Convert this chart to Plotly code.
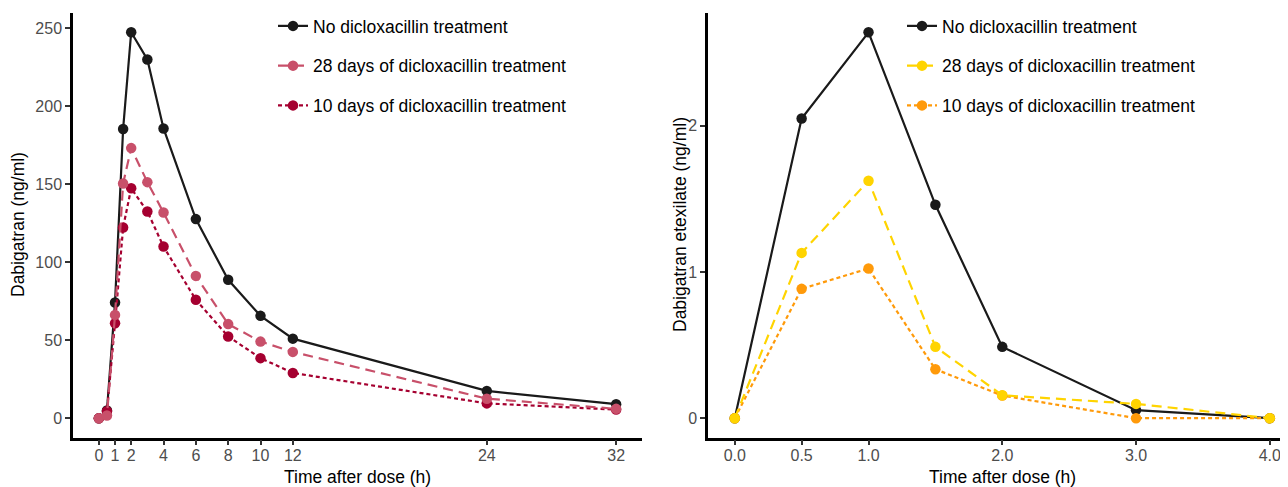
import plotly.graph_objects as go

# ---- Data: Dabigatran (left panel) ----
time_dab = [0, 0.5, 1, 1.5, 2, 3, 4, 6, 8, 10, 12, 24, 32]
dab_none = [0, 4.9, 74.1, 185.3, 247.4, 229.9, 185.7, 127.6, 88.7, 65.6, 51.0, 17.5, 9.0]
dab_28d = [0, 1.7, 66.2, 150.4, 173.1, 151.3, 131.8, 91.2, 60.3, 49.1, 42.5, 12.5, 6.0]
dab_10d = [0, 4.5, 60.9, 122.2, 147.4, 132.5, 110.0, 75.9, 52.4, 38.5, 29.0, 9.5, 5.5]
x_ticks_dab = [0, 1, 2, 4, 6, 8, 10, 12, 24, 32]
y_ticks_dab = [0, 50, 100, 150, 200, 250]

# ---- Data: Dabigatran etexilate (right panel) ----
time_dabe = [0, 0.5, 1.0, 1.5, 2.0, 3.0, 4.0]
dabe_none = [0, 2.05, 2.64, 1.46, 0.488, 0.055, 0]
dabe_28d = [0, 1.131, 1.624, 0.488, 0.157, 0.098, 0]
dabe_10d = [0, 0.885, 1.024, 0.335, 0.155, 0, 0]
x_ticks_dabe = [0, 0.5, 1.0, 2.0, 3.0, 4.0]
x_ticktext_dabe = ["0.0", "0.5", "1.0", "2.0", "3.0", "4.0"]
y_ticks_dabe = [0, 1, 2]

labels = ["No dicloxacillin treatment",
          "28 days of dicloxacillin treatment",
          "10 days of dicloxacillin treatment"]
x_title = "Time after dose (h)"
y_title_left = "Dabigatran (ng/ml)"
y_title_right = "Dabigatran etexilate (ng/ml)"

FONT = "Liberation Sans, Arial, Helvetica, sans-serif"
OFF = 8  # page body margin
W, H = 1288 - OFF, 487 - OFF

fig = go.Figure()

def add(x, y, name, color, dash, xa, ya, leg, rank, group):
    fig.add_trace(go.Scatter(
        x=x, y=y, name=name, mode="lines+markers",
        line=dict(color=color, width=2.2, dash=dash),
        marker=dict(color=color, size=10.5),
        xaxis=xa, yaxis=ya, legend=leg, legendrank=rank, legendgroup=group,
    ))

# left panel (draw order: black, 10d, 28d)
add(time_dab, dab_none, labels[0], "#1a1a1a", "solid", "x", "y", "legend", 1, "a1")
add(time_dab, dab_10d, labels[2], "#a50030", "4px,3px", "x", "y", "legend", 3, "a3")
add(time_dab, dab_28d, labels[1], "#c8506a", "10px,6px", "x", "y", "legend", 2, "a2")
# right panel
add(time_dabe, dabe_none, labels[0], "#1a1a1a", "solid", "x2", "y2", "legend2", 1, "b1")
add(time_dabe, dabe_10d, labels[2], "#ff9a0a", "4px,3px", "x2", "y2", "legend2", 3, "b3")
add(time_dabe, dabe_28d, labels[1], "#ffd400", "10px,6px", "x2", "y2", "legend2", 2, "b2")

def px_x(p):  # p: pixel in reference screenshot
    return (p - OFF) / W

def px_y(p):
    return 1 - (p - OFF) / H

axis_common = dict(
    showline=True, linecolor="black", linewidth=2.5, mirror=False,
    ticks="outside", ticklen=5, tickwidth=2, tickcolor="#333333",
    tickfont=dict(family=FONT, size=16, color="#4d4d4d"),
    showgrid=False, zeroline=False, automargin=False,
)

title_font = dict(family=FONT, size=17.5, color="black")
legend_common = dict(xanchor="left", yanchor="top", bgcolor="rgba(0,0,0,0)",
                     font=dict(family=FONT, size=17.5, color="black"),
                     tracegroupgap=14, traceorder="grouped", itemwidth=30)

fig.update_layout(
    width=W, height=H,
    margin=dict(l=0, r=0, t=0, b=0),
    paper_bgcolor="white", plot_bgcolor="white",
    font=dict(family=FONT, color="black"),
    xaxis=dict(domain=[px_x(73), px_x(642)], range=[-1.6, 33.6],
               tickvals=x_ticks_dab, anchor="y", ticklabelstandoff=-3, **axis_common),
    yaxis=dict(domain=[px_y(437.5), px_y(13)], range=[-12.37, 259.7],
               tickvals=y_ticks_dab, anchor="x", **axis_common),
    xaxis2=dict(domain=[px_x(708), 1.0], range=[-0.2, 4.136],
                tickvals=x_ticks_dabe, ticktext=x_ticktext_dabe, anchor="y2",
                ticklabelstandoff=-3, **axis_common),
    yaxis2=dict(domain=[px_y(437.5), px_y(13)], range=[-0.132, 2.772],
                tickvals=y_ticks_dabe, anchor="x2", **axis_common),
    legend=dict(x=px_x(265 + OFF), y=1.0, **legend_common),
    legend2=dict(x=px_x(894 + OFF), y=1.0, **legend_common),
    annotations=[
        dict(text=x_title, x=px_x(357.5), y=px_y(477), xref="paper", yref="paper",
             xanchor="center", yanchor="middle", showarrow=False, font=title_font),
        dict(text=x_title, x=px_x(1002), y=px_y(477), xref="paper", yref="paper",
             xanchor="center", yanchor="middle", showarrow=False, font=title_font),
        dict(text=y_title_left, x=px_x(18), y=px_y(225), xref="paper", yref="paper",
             xanchor="center", yanchor="middle", showarrow=False, textangle=-90,
             font=title_font),
        dict(text=y_title_right, x=px_x(680), y=px_y(225), xref="paper", yref="paper",
             xanchor="center", yanchor="middle", showarrow=False, textangle=-90,
             font=title_font),
    ],
)

fig.write_html("out.html")
